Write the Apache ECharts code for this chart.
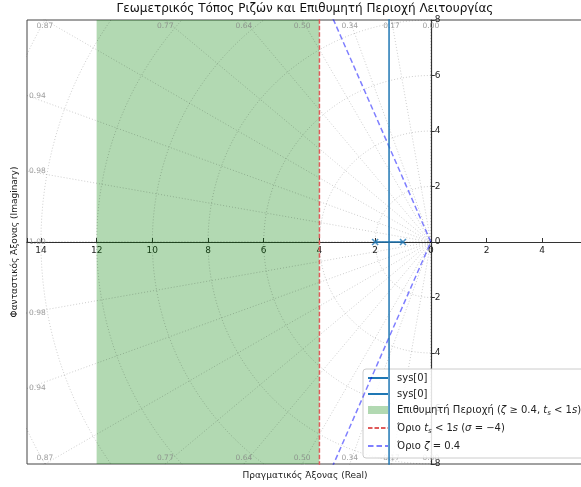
<!DOCTYPE html>
<html>
<head>
<meta charset="utf-8">
<script src="https://cdn.jsdelivr.net/npm/echarts@6/dist/echarts.min.js"></script>
<style>
  html, body { margin: 0; padding: 0; background: #fff; }
  #chart { width: 581px; height: 487px; }
</style>
</head>
<body>
<div id="chart"></div>
<script>
// Root locus of G(s) = K / ((s + 1)(s + 2)) with the desired operating region.
const polesRe = [-2, -1];
const polesIm = [0, 0];
const branchUpper = [[-2, 0], [-1.5, 0], [-1.5, 8.5]];
const branchLower = [[-1, 0], [-1.5, 0], [-1.5, -8.5]];
const regionX = [-12, -4];          // shaded band on the real axis
const sigmaLimit = -4;              // settling-time bound
const zetaLimit = 0.4;              // damping bound
const xRange = [-14.5, 5.5];
const yRange = [-8, 8];
// s-plane grid: constant-damping rays (degrees from the negative real axis) and wn circles
const gridAngles = [0, 10, 20, 30, 40, 50, 60, 70, 80, 90];
const zetaTicks = ['1.00', '0.98', '0.94', '0.87', '0.77', '0.64', '0.50', '0.34', '0.17', '0.00'];
const wnRadii = [2, 4, 6, 8, 10, 12, 14, 16];

const FONT = 'DejaVu Sans';
const C0 = '#1f77b4';
const regionName = 'Επιθυμητή Περιοχή (ζ ≥ 0.4, ts < 1s)';
const sigmaName = 'Όριο ts < 1s (σ = −4)';
const zetaName = 'Όριο ζ = 0.4';
const sysA = 'sys[0]';
const sysB = 'sys[0] ';

const richNames = {};
richNames[sysA] = '{m|sys[0]}';
richNames[sysB] = '{m|sys[0]}';
richNames[regionName] = '{n|Επιθυμητή Περιοχή (}{i|ζ}{n| ≥ 0.4, }{i|t}{s|s}{n| < 1}{i|s}{n|)}';
richNames[sigmaName] = '{n|Όριο }{i|t}{s|s}{n| < 1}{i|s}{n| (}{i|σ}{n| = −4)}';
richNames[zetaName] = '{n|Όριο }{i|ζ}{n| = 0.4}';

const gridStyle = { color: 'rgba(0,0,0,0.2)', width: 1, type: [1, 2] };
const R = 40;
const series = [];

// shaded desired region
series.push({
  name: regionName, type: 'line', data: [[regionX[0], 0]], symbol: 'none', z: 1,
  lineStyle: { width: 0 },
  markArea: {
    silent: true,
    itemStyle: { color: 'rgba(0,128,0,0.3)' },
    data: [[{ xAxis: regionX[0] }, { xAxis: regionX[1] }]]
  }
});

// constant damping rays
gridAngles.forEach(function (deg) {
  const a = deg * Math.PI / 180;
  series.push({
    type: 'line', silent: true, symbol: 'none', z: 2, animation: false,
    lineStyle: gridStyle,
    data: [[-R * Math.cos(a), R * Math.sin(a)], [0, 0], [-R * Math.cos(a), -R * Math.sin(a)]]
  });
});

// natural frequency circles (left half-plane)
wnRadii.forEach(function (r) {
  const pts = [];
  for (let t = 90; t <= 270; t += 2) {
    const a = t * Math.PI / 180;
    pts.push([r * Math.cos(a), r * Math.sin(a)]);
  }
  series.push({
    type: 'line', silent: true, symbol: 'none', z: 2, animation: false,
    lineStyle: gridStyle, data: pts
  });
});

// damping labels where the rays meet the frame
const zetaLabels = [];
gridAngles.forEach(function (deg, i) {
  const a = deg * Math.PI / 180;
  const c = Math.cos(a), s = Math.sin(a);
  const lbl = zetaTicks[i];
  if (s > 1e-9 && -yRange[1] * c / s >= xRange[0]) {
    const x = -yRange[1] * c / s;
    zetaLabels.push({ value: [x, yRange[1]], label: { position: 'bottom', distance: 2, formatter: lbl } });
    zetaLabels.push({ value: [x, yRange[0]], label: { position: 'top', distance: 2, formatter: lbl } });
  } else {
    const y = -xRange[0] * s / c;
    zetaLabels.push({ value: [xRange[0], y], label: { position: 'right', distance: 2, formatter: lbl } });
    if (y > 1e-9) {
      zetaLabels.push({ value: [xRange[0], -y], label: { position: 'right', distance: 2, formatter: lbl } });
    }
  }
});
series.push({
  type: 'scatter', silent: true, symbolSize: 0, z: 3, clip: false, animation: false,
  data: zetaLabels,
  label: { show: true, color: '#858585', fontSize: 7.5, fontFamily: FONT }
});

// settling-time bound
const RED = '#e05a5a';
series.push({
  name: sigmaName, type: 'line', symbol: 'none', z: 4,
  lineStyle: { color: RED, width: 1.5, type: [4.5, 2] },
  itemStyle: { color: RED },
  data: [[sigmaLimit, yRange[0] - 1], [sigmaLimit, yRange[1] + 1]]
});

// damping bound
const za = Math.acos(zetaLimit);
series.push({
  name: zetaName, type: 'line', symbol: 'none', z: 4,
  lineStyle: { color: 'rgba(0,0,255,0.5)', width: 1.5, type: [5.5, 3] },
  itemStyle: { color: 'rgba(0,0,255,0.5)' },
  data: [[-R * Math.cos(za), R * Math.sin(za)], [0, 0], [-R * Math.cos(za), -R * Math.sin(za)]]
});

// locus branches
series.push({
  name: sysA, type: 'line', symbol: 'none', z: 5,
  lineStyle: { color: C0, width: 1.5 }, itemStyle: { color: C0 },
  data: branchUpper
});
series.push({
  name: sysB, type: 'line', symbol: 'none', z: 5,
  lineStyle: { color: C0, width: 1.5 }, itemStyle: { color: C0 },
  data: branchLower
});

// open-loop poles
series.push({
  type: 'scatter', silent: true, z: 6,
  symbol: 'path://M0,0L10,10M10,0L0,10', symbolSize: 6,
  itemStyle: { color: 'rgba(0,0,0,0)', borderColor: C0, borderWidth: 1.6 },
  data: polesRe.map(function (re, i) { return [re, polesIm[i]]; })
});

const absLabel = function (v) {
  return Math.abs(v % 2) < 1e-9 ? String(Math.abs(v)) : '';
};

const hideSymbol = { opacity: 0 };

const chart = echarts.init(document.getElementById('chart'), null, { renderer: 'canvas' });
chart.setOption({
  animation: false,
  backgroundColor: '#fff',
  title: {
    text: 'Γεωμετρικός Τόπος Ριζών και Επιθυμητή Περιοχή Λειτουργίας',
    left: 305, top: 3, textAlign: 'center', padding: 0,
    textStyle: { fontSize: 12, fontWeight: 'normal', fontFamily: FONT, color: '#111' }
  },
  grid: {
    left: 27, right: -3, top: 20, bottom: 23, outerBoundsMode: 'none', containLabel: false,
    show: true, borderColor: '#444', borderWidth: 1, backgroundColor: 'transparent'
  },
  xAxis: {
    type: 'value', position: 'bottom', min: xRange[0], max: xRange[1], splitNumber: 10, minInterval: 2, maxInterval: 2,
    axisLine: { onZero: false, lineStyle: { color: '#333', width: 1.2 } },
    axisTick: { inside: true, length: 4, lineStyle: { color: '#333' } },
    axisLabel: { margin: 4, fontSize: 9, color: '#222', fontFamily: FONT, formatter: absLabel },
    splitLine: { show: false }
  },
  yAxis: {
    type: 'value', position: 'left', min: yRange[0], max: yRange[1], interval: 2,
    axisLine: { onZero: false, lineStyle: { color: '#333', width: 1.2 } },
    axisTick: { inside: true, length: 4, lineStyle: { color: '#333' } },
    axisLabel: { inside: true, margin: 4, fontSize: 9, color: '#222', fontFamily: FONT, formatter: absLabel },
    splitLine: { show: false }
  },
  legend: {
    orient: 'vertical', left: 363, top: 369,
    padding: [4, 6, 7, 4], itemGap: 6, itemWidth: 20, itemHeight: 8,
    backgroundColor: 'rgba(255,255,255,0.85)', borderColor: '#cccccc', borderWidth: 1, borderRadius: 3,
    data: [
      { name: sysA, itemStyle: hideSymbol }, { name: sysB, itemStyle: hideSymbol },
      { name: regionName, icon: 'rect', itemStyle: { color: 'rgba(0,128,0,0.3)' } },
      { name: sigmaName, itemStyle: hideSymbol }, { name: zetaName, itemStyle: hideSymbol }
    ],
    formatter: function (name) { return richNames[name] || name; },
    textStyle: {
      padding: [0, 0, 0, 4],
      rich: {
        m: { fontSize: 10, fontFamily: FONT, color: '#222', lineHeight: 9 },
        n: { fontSize: 10, fontFamily: FONT, color: '#222', lineHeight: 14 },
        i: { fontSize: 10, fontFamily: FONT, fontStyle: 'italic', color: '#222', lineHeight: 14 },
        s: { fontSize: 7, fontFamily: FONT, fontStyle: 'italic', color: '#222', lineHeight: 8, verticalAlign: 'bottom' }
      }
    }
  },
  graphic: [
    { type: 'text', x: 305, y: 476, silent: true,
      style: { text: 'Πραγματικός Άξονας (Real)', align: 'center', verticalAlign: 'middle',
               font: '9px "DejaVu Sans"', fill: '#222' } },
    { type: 'text', x: 15, y: 242, rotation: Math.PI / 2, silent: true,
      style: { text: 'Φανταστικός Άξονας (Imaginary)', align: 'center', verticalAlign: 'middle',
               font: '9px "DejaVu Sans"', fill: '#222' } }
  ],
  series: series
});

// Float both axes through the origin: shift them from the frame edge to the zero lines.
const origin = chart.convertToPixel({ gridIndex: 0 }, [0, 0]);
const corner = chart.convertToPixel({ gridIndex: 0 }, [xRange[0], yRange[0]]);
chart.setOption({
  xAxis: { offset: origin[1] - corner[1] },
  yAxis: { offset: corner[0] - origin[0] }
});
</script>
</body>
</html>
